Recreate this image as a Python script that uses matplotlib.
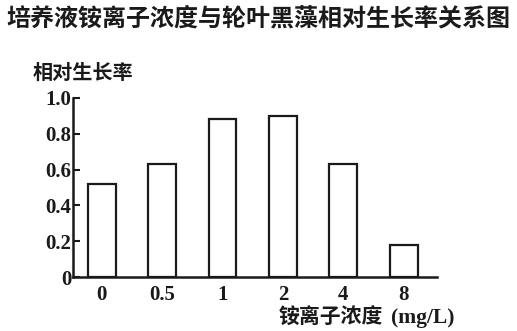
import matplotlib
matplotlib.use("Agg")
from matplotlib import pyplot as plt

# data
concentrations = ["0", "0.5", "1", "2", "4", "8"]
growth_rate = [0.52, 0.63, 0.88, 0.90, 0.63, 0.18]
y_ticks = [0, 0.2, 0.4, 0.6, 0.8, 1.0]
y_tick_labels = ["0", "0.2", "0.4", "0.6", "0.8", "1.0"]

cjk = ["Noto Sans CJK SC", "DejaVu Sans"]
serif = ["Liberation Serif", "DejaVu Serif"]
ink = "#1a1a1a"

fig = plt.figure(figsize=(5.17, 3.31), dpi=100)
ax = fig.add_axes([0.141, 0.163, 0.704, 0.541])

x = list(range(len(concentrations)))
ax.bar(x, growth_rate, width=0.46, color="white", edgecolor=ink, linewidth=1.6)

ax.set_xlim(-0.48, 5.55)
ax.set_ylim(0, 1.0)
ax.set_xticks(x)
ax.set_xticklabels(concentrations, family=serif, fontsize=15, fontweight="bold", color=ink)
ax.set_yticks(y_ticks)
ax.set_yticklabels(y_tick_labels, family=serif, fontsize=15, fontweight="bold", color=ink)
ax.tick_params(axis="x", length=0, pad=6)
ax.tick_params(axis="y", direction="in", length=5, width=1.5, pad=1, colors=ink)

for side in ("top", "right"):
    ax.spines[side].set_visible(False)
for side in ("left", "bottom"):
    ax.spines[side].set_linewidth(1.8)
    ax.spines[side].set_color(ink)

fig.text(0.5, 0.945, "培养液铵离子浓度与轮叶黑藻相对生长率关系图", family=cjk,
         fontsize=17.3, fontweight="bold", color=ink, ha="center", va="center")
fig.text(0.064, 0.782, "相对生长率", family=cjk, fontsize=14.5, fontweight="bold",
         color=ink, ha="left", va="center")
fig.text(0.538, 0.04, "铵离子浓度", family=cjk, fontsize=15, fontweight="bold",
         color=ink, ha="left", va="center")
fig.text(0.757, 0.04, "(mg/L)", family=serif, fontsize=15.5, fontweight="bold",
         color=ink, ha="left", va="center")

fig.savefig("out.png", dpi=100)
